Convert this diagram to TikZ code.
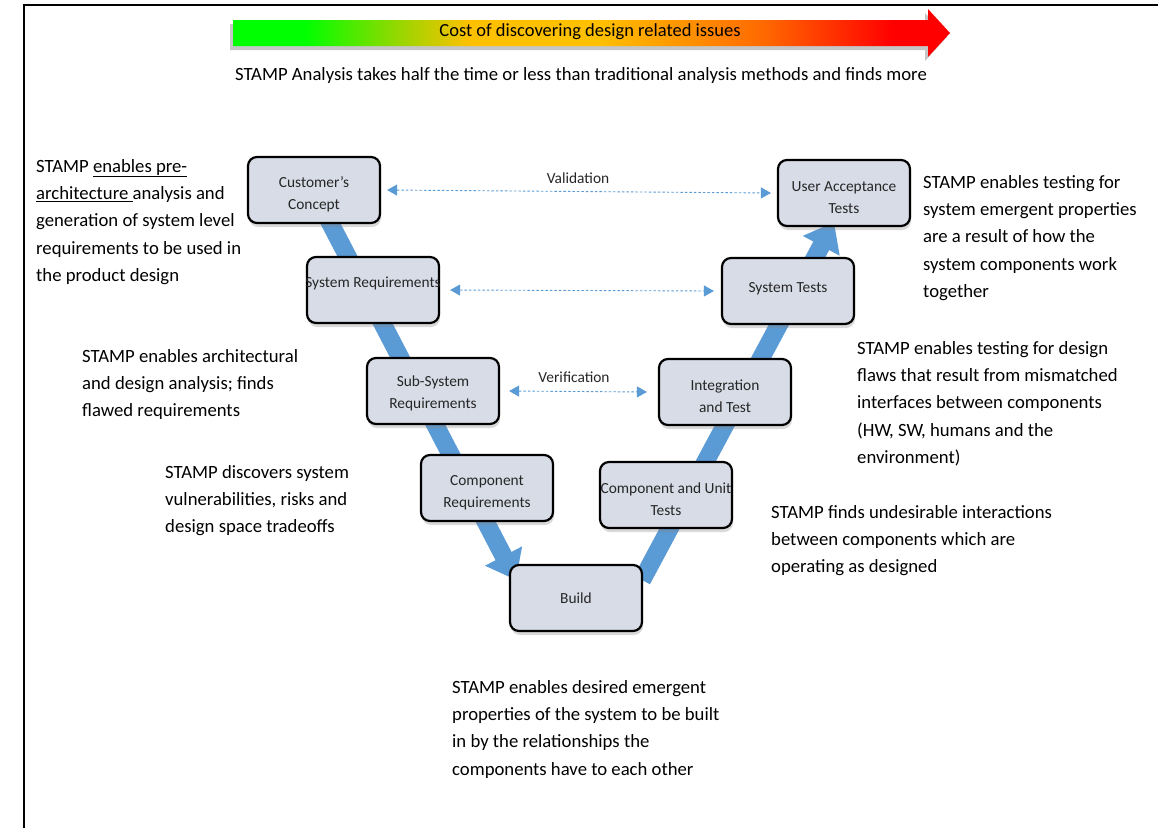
\documentclass[tikz,border=0pt]{standalone}
\usepackage{fontspec}
\setmainfont{Carlito}
\usetikzlibrary{arrows.meta,shadows}

\definecolor{vblue}{RGB}{91,155,213}
\definecolor{boxfill}{RGB}{215,220,230}
\definecolor{cgreen}{RGB}{0,255,0}
\definecolor{cyg}{RGB}{150,215,0}
\definecolor{cgold}{RGB}{255,192,0}
\definecolor{corange}{RGB}{255,105,0}
\definecolor{cred}{RGB}{255,0,0}

\pgfdeclarehorizontalshading{costshade}{100bp}{color(0bp)=(cgreen); color(25bp)=(cgreen);
  color(30bp)=(cgreen); color(36.5bp)=(cyg); color(41.5bp)=(cgold); color(50.5bp)=(cgold);
  color(62bp)=(corange); color(71bp)=(cred); color(75bp)=(cred); color(100bp)=(cred)}

% pushes two-line stage labels a little down
\newcommand{\stagestrut}{\rule{0pt}{20pt}}

\tikzset{
  stage/.style={draw=black,line width=2.2pt,rounded corners=9pt,fill=boxfill,
    minimum width=132pt,minimum height=66pt,inner sep=0pt,align=center,
    text=black!85,font=\fontsize{15.4}{22}\selectfont,
    drop shadow={shadow xshift=1pt,shadow yshift=-4pt,opacity=0.3}},
  note/.style={anchor=north west,align=left,inner sep=0pt,
    font=\fontsize{18.7}{27.3}\selectfont},
  vband/.style={vblue,line width=18pt,-{Triangle[width=40pt,length=27pt]}},
  checkarrow/.style={vblue,line width=0.9pt,dash pattern=on 2.5pt off 2pt,
    {Triangle[width=11pt,length=10pt]}-{Triangle[width=11pt,length=10pt]}},
  vlabel/.style={text=black!85,font=\fontsize{15.4}{18}\selectfont}
}

\begin{document}
\begin{tikzpicture}[x=1pt,y=-1pt]
  \useasboundingbox (0,0) rectangle (1158,828);
  \draw[line width=2.2pt] (24,828) -- (24,5) -- (1158,5);

  % cost banner
  \path[shading=costshade,drop shadow={shadow xshift=-3pt,shadow yshift=-4pt,opacity=0.45}]
    (233,20) -- (928,20) -- (928,9) -- (950,33) -- (928,57) -- (928,46) -- (233,46) -- cycle;
  \node[font=\fontsize{18.5}{20}\selectfont] (cost) at (590,32) {Cost of discovering design related issues};
  \node[font=\fontsize{18.7}{20}\selectfont] (claim) at (581,76)
    {STAMP Analysis takes half the time or less than traditional analysis methods and finds more};

  % V bands
  \coordinate (vl0) at (326,215);
  \coordinate (vl1) at (516,580);
  \coordinate (vr0) at (642,580);
  \coordinate (vr1) at (834,222);
  \draw[vband] (vl0) -- (vl1);
  \draw[vband] (vr0) -- (vr1);

  % stages
  \node[stage] (cc) at (314,190) {\stagestrut Customer's\\Concept};
  \node[stage] (sysreq) at (373,290) {\makebox[0pt]{\raisebox{16pt}{System Requirements}}};
  \node[stage] (subreq) at (433,391) {\rule{0pt}{16pt}Sub-System\\Requirements};
  \node[stage] (compreq) at (487,488) {\stagestrut Component\\Requirements};
  \node[stage] (build) at (576,598) {Build};
  \node[stage] (unit) at (666,495) {\stagestrut\makebox[0pt]{Component and Unit}\\Tests};
  \node[stage] (integ) at (725,392) {\stagestrut Integration\\and Test};
  \node[stage] (systest) at (788,291) {\raisebox{8pt}{System Tests}};
  \node[stage] (uat) at (844,193) {\stagestrut User Acceptance\\Tests};

  % validation / verification
  \draw[checkarrow] ([xshift=6pt]cc.east) -- ([xshift=-6pt]uat.west);
  \node[vlabel] (valid) at (578,178) {Validation};
  \draw[checkarrow] ([xshift=10pt]sysreq.east) -- ([xshift=-7pt]systest.west);
  \draw[checkarrow] ([xshift=9pt]subreq.east) -- ([xshift=-11pt]integ.west);
  \node[vlabel] (verif) at (574,377) {Verification};

  % STAMP notes
  \node[note] (n1) at (36,159) {STAMP \underline{enables pre-}\\\underline{architecture\ }analysis and\\generation of system level\\requirements to be used in\\the product design};
  \node[note] (n2) at (82,349) {STAMP enables architectural\\and design analysis; finds\\flawed requirements};
  \node[note] (n3) at (165,465) {STAMP discovers system\\vulnerabilities, risks and\\design space tradeoffs};
  \node[note] (n4) at (452,680) {STAMP enables desired emergent\\properties of the system to be built\\in by the relationships the\\components have to each other};
  \node[note] (n5) at (771,505) {STAMP finds undesirable interactions\\between components which are\\operating as designed};
  \node[note] (n6) at (857,341) {STAMP enables testing for design\\flaws that result from mismatched\\interfaces between components\\(HW, SW, humans and the\\environment)};
  \node[note] (n7) at (923,175) {STAMP enables testing for\\system emergent properties\\are a result of how the\\system components work\\together};
\end{tikzpicture}
\end{document}
